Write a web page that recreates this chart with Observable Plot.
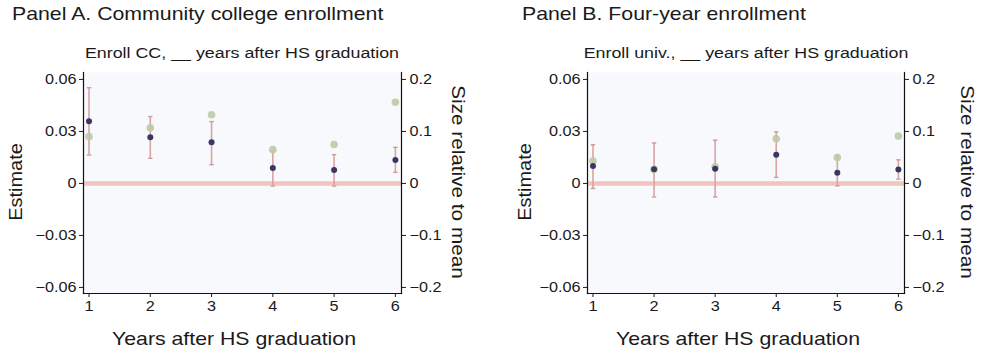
<!DOCTYPE html>
<html>
<head>
<meta charset="utf-8">
<script src="https://cdn.jsdelivr.net/npm/d3@7"></script>
<script src="https://cdn.jsdelivr.net/npm/@observablehq/plot@0.6"></script>
<style>
  html, body { margin: 0; padding: 0; background: #fff; }
  #root { position: relative; width: 985px; height: 355px; overflow: hidden;
          font-family: "Liberation Sans", Arial, Helvetica, sans-serif; color: #1a1a1a; }
  .panel { position: absolute; top: 0; height: 355px; }
  .panel svg { position: absolute; left: 0; top: 0; }
  .t { position: absolute; white-space: nowrap; line-height: 1; }
  .title { font-size: 18.5px; transform-origin: 0 0; transform: scaleX(1.15); }
  .sub { font-size: 15.5px; transform: translateX(-50%) scaleX(1.15); }
  .xlab { font-size: 18.5px; transform: translateX(-50%) scaleX(1.15); }
  .ylab { font-size: 18.5px; transform: translate(-50%, -50%) rotate(-90deg) scaleX(1.08); }
  .rlab { font-size: 18.5px; transform: translate(-50%, -50%) rotate(90deg) scaleX(1.12); }
</style>
</head>
<body>
<div id="root"></div>
<script>
// ---------- data ----------
const years = [1, 2, 3, 4, 5, 6];

// Panel A: community college enrollment
const ccEstimate = [0.0359, 0.0266, 0.0237, 0.0089, 0.0077, 0.0135];
const ccLower    = [0.0164, 0.0145, 0.0108, -0.0015, -0.0015, 0.0064];
const ccUpper    = [0.0552, 0.0386, 0.0357, 0.0189, 0.0166, 0.0208];
const ccRelative = [0.090, 0.107, 0.132, 0.065, 0.075, 0.156];

// Panel B: four-year enrollment
const univEstimate = [0.0101, 0.0082, 0.0085, 0.0165, 0.0062, 0.0080];
const univLower    = [-0.0029, -0.0078, -0.0078, 0.0035, -0.0014, 0.0025];
const univUpper    = [0.0223, 0.0233, 0.0249, 0.0297, 0.0161, 0.0136];
const univRelative = [0.043, 0.027, 0.032, 0.086, 0.050, 0.091];

// tick labels
const estimateTicks = [-0.06, -0.03, 0, 0.03, 0.06];
const relativeTicks = [-0.2, -0.1, 0, 0.1, 0.2];
const ratio = 0.06 / 0.2; // left-axis units per right-axis unit

const panels = [
  {
    left: 0, width: 490, marginLeft: 83, marginRight: 89,
    title: "Panel A. Community college enrollment",
    subtitle: "Enroll CC, __ years after HS graduation",
    est: ccEstimate, lo: ccLower, hi: ccUpper, rel: ccRelative,
    titleX: 12, ylabX: 16, rlabX: 458
  },
  {
    left: 490, width: 495, marginLeft: 97, marginRight: 81,
    title: "Panel B. Four-year enrollment",
    subtitle: "Enroll univ., __ years after HS graduation",
    est: univEstimate, lo: univLower, hi: univUpper, rel: univRelative,
    titleX: 32, ylabX: 35, rlabX: 477
  }
];

const fmtLeft = v => Math.abs(v) < 1e-9 ? "0" : d3.format(".2f")(v);
const fmtRight = v => {
  const r = relativeTicks.find(t => Math.abs(t * ratio - v) < 1e-9);
  return Math.abs(r) < 1e-9 ? "0" : d3.format(".1f")(r);
};

const capSymbol = {
  draw(context, size) {
    const r = Math.sqrt(size / Math.PI);
    context.moveTo(-r, 0);
    context.lineTo(r, 0);
  }
};

// widen svg text slightly around its horizontal anchor point
function stretchText(svg, s) {
  svg.querySelectorAll("text").forEach(t => {
    const xa = t.getAttribute("x") || "0";
    let x = parseFloat(xa);
    if (!isFinite(x)) x = 0;
    if (/em$/.test(xa)) x *= 14.5;
    const tr = t.getAttribute("transform") || "";
    t.setAttribute("transform", `${tr} translate(${x},0) scale(${s},1) translate(${-x},0)`.trim());
  });
}

const root = document.getElementById("root");

for (const p of panels) {
  const rows = years.map((y, i) => ({
    year: y, est: p.est[i], lo: p.lo[i], hi: p.hi[i], rel: p.rel[i]
  }));
  const ends = rows.flatMap(d => [{year: d.year, v: d.lo}, {year: d.year, v: d.hi}]);
  const marginTop = 72, marginBottom = 62, H = 355;

  const chart = Plot.plot({
    width: p.width, height: H,
    marginLeft: p.marginLeft, marginRight: p.marginRight,
    marginTop, marginBottom,
    style: {fontFamily: '"Liberation Sans", Arial, sans-serif', fontSize: "14.5px", color: "#1a1a1a", background: "transparent"},
    x: {domain: [0.91, 6.1]},
    y: {domain: [-0.0635, 0.064]},
    marks: [
      Plot.frame({fill: "#f8f9fc", stroke: null}),
      Plot.ruleY([0], {stroke: "#f2c4bf", strokeWidth: 4.5}),
      Plot.ruleX(rows, {x: "year", y1: "lo", y2: "hi", stroke: "#d8a4a4", strokeWidth: 1.6}),
      Plot.dot(ends, {x: "year", y: "v", symbol: capSymbol, r: 2.2, stroke: "#cf9a9a", strokeWidth: 1.4}),
      Plot.dot(rows, {x: "year", y: d => d.rel * ratio, r: 3.8, fill: "#bccaa6", fillOpacity: 0.9, stroke: null}),
      Plot.dot(rows, {x: "year", y: "est", r: 3, fill: "#3b3765", stroke: null}),
      Plot.frame({anchor: "left", stroke: "#111", strokeWidth: 1.2}),
      Plot.frame({anchor: "right", stroke: "#111", strokeWidth: 1.2}),
      Plot.frame({anchor: "bottom", stroke: "#111", strokeWidth: 1.2}),
      Plot.axisY(estimateTicks, {anchor: "left", tickSize: 4, tickPadding: 3, tickFormat: fmtLeft, label: null, fontSize: 14.5}),
      Plot.axisY(estimateTicks, {anchor: "right", tickSize: 4, tickPadding: 4, tickFormat: fmtRight, label: null, fontSize: 14.5}),
      Plot.axisX(years, {anchor: "bottom", tickSize: 4, tickPadding: 3, tickFormat: d3.format("d"), label: null, fontSize: 14.5})
    ]
  });
  stretchText(chart, 1.12);

  const div = document.createElement("div");
  div.className = "panel";
  div.style.left = p.left + "px";
  div.style.width = p.width + "px";
  div.appendChild(chart);

  const frameMid = p.marginLeft + (p.width - p.marginLeft - p.marginRight) / 2;
  const addText = (cls, text, x, y) => {
    const t = document.createElement("div");
    t.className = "t " + cls;
    t.textContent = text;
    t.style.left = x + "px";
    t.style.top = y + "px";
    div.appendChild(t);
  };
  addText("title", p.title, p.titleX, 5);
  addText("sub", p.subtitle, frameMid, 45);
  addText("xlab", "Years after HS graduation", frameMid - 8, 330);
  addText("ylab", "Estimate", p.ylabX, 182);
  addText("rlab", "Size relative to mean", p.rlabX, 182);

  root.appendChild(div);
}
</script>
</body>
</html>
